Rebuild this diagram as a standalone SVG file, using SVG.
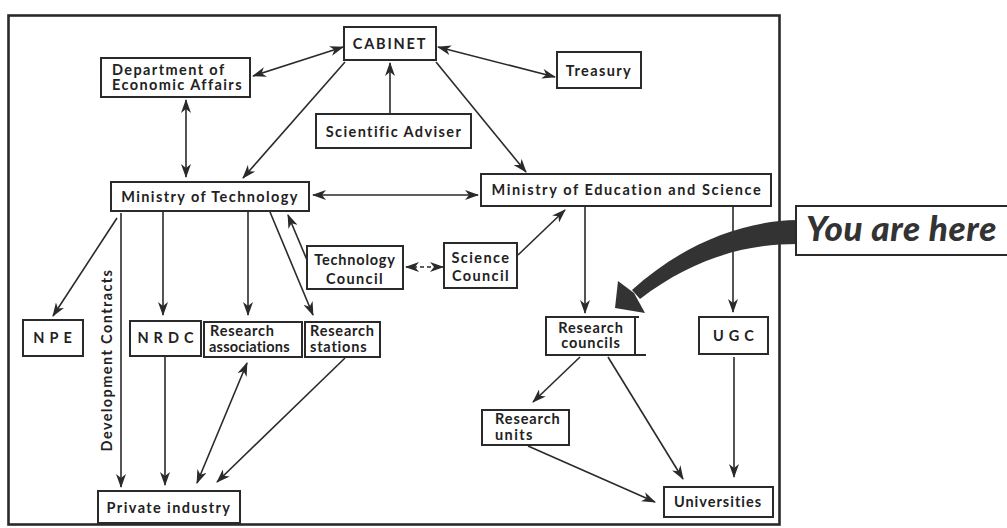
<svg xmlns="http://www.w3.org/2000/svg" width="1007" height="528" viewBox="0 0 1007 528">
<style>
.box{fill:#fff;stroke:#2a2a2a;stroke-width:2}
.t{font-family:Lato,"Open Sans","DejaVu Sans",sans-serif;font-weight:700;font-size:14.5px;fill:#222;letter-spacing:1.4px}
.c{text-anchor:middle}
.wide{letter-spacing:5px}
.ln{fill:none;stroke:#2a2a2a;stroke-width:1.6}
.a{marker-end:url(#ah)}
.aa{marker-end:url(#ah);marker-start:url(#ah)}
.dash{stroke-dasharray:4 3}
</style>
<defs>
<marker id="ah" viewBox="0 0 14 10" refX="13" refY="5" markerWidth="14" markerHeight="10" markerUnits="userSpaceOnUse" orient="auto-start-reverse">
<path d="M0,0 L14,5 L0,10 L4,5 Z" fill="#2a2a2a"/>
</marker>
</defs>
<rect width="1007" height="528" fill="#fff"/>
<rect id="frame" x="8.5" y="15.5" width="771" height="509" fill="none" stroke="#2a2a2a" stroke-width="2.6"/>

<g id="connectors">
<line class="ln aa" x1="253" y1="76" x2="343" y2="47"/>
<line class="ln aa" x1="438" y1="47" x2="555" y2="77"/>
<line class="ln a" x1="390" y1="113" x2="390" y2="63"/>
<line class="ln aa" x1="186" y1="100" x2="186" y2="177"/>
<line class="ln a" x1="345" y1="62" x2="243" y2="178"/>
<line class="ln a" x1="436" y1="62" x2="526" y2="172"/>
<line class="ln aa" x1="313" y1="195" x2="478" y2="195"/>
<line class="ln a" x1="117" y1="218" x2="53" y2="316"/>
<line class="ln a" x1="121" y1="213" x2="121" y2="487"/>
<line class="ln a" x1="163" y1="212" x2="163" y2="315"/>
<line class="ln a" x1="248" y1="212" x2="248" y2="315"/>
<line class="ln a" x1="270" y1="212" x2="313" y2="315"/>
<line class="ln a" x1="307" y1="260" x2="288" y2="215"/>
<line class="ln aa dash" x1="406" y1="267" x2="443" y2="267"/>
<line class="ln a" x1="518" y1="255" x2="565" y2="210"/>
<line class="ln a" x1="585" y1="207" x2="585" y2="313"/>
<line class="ln a" x1="733" y1="207" x2="733" y2="312"/>
<line class="ln a" x1="165" y1="357" x2="165" y2="485"/>
<line class="ln aa" x1="247" y1="363" x2="197" y2="483"/>
<line class="ln a" x1="345" y1="358" x2="217" y2="482"/>
<line class="ln a" x1="580" y1="357" x2="533" y2="402"/>
<line class="ln a" x1="608" y1="357" x2="683" y2="479"/>
<line class="ln a" x1="528" y1="446" x2="655" y2="502"/>
<line class="ln a" x1="734" y1="357" x2="734" y2="477"/>
</g>

<g id="cabinet"><rect class="box" x="344" y="27" width="92" height="33"/><text class="t c" x="390" y="49" style="letter-spacing:1.8px">CABINET</text></g>
<g id="dea"><rect class="box" x="101" y="58" width="149" height="39"/><text class="t" x="112" y="75">Department of</text><text class="t" x="112" y="90">Economic Affairs</text></g>
<g id="treasury"><rect class="box" x="557" y="52" width="84" height="36"/><text class="t c" x="599" y="76">Treasury</text></g>
<g id="sciadviser"><rect class="box" x="316" y="114" width="155" height="34"/><text class="t c" x="394" y="137">Scientific Adviser</text></g>
<g id="mintech"><rect class="box" x="111" y="182" width="198" height="29"/><text class="t c" x="210" y="202">Ministry of Technology</text></g>
<g id="minedu"><rect class="box" x="481" y="174" width="290" height="32"/><text class="t c" x="627" y="195" style="letter-spacing:1.6px">Ministry of Education and Science</text></g>
<g id="techcouncil"><rect class="box" x="307" y="246" width="96" height="43"/><text class="t c" x="355" y="265" style="letter-spacing:0.8px">Technology</text><text class="t c" x="355" y="284">Council</text></g>
<g id="scicouncil"><rect class="box" x="444" y="243" width="73" height="45"/><text class="t c" x="481" y="263">Science</text><text class="t c" x="481" y="281">Council</text></g>
<g id="npe"><rect class="box" x="23" y="320" width="60" height="36"/><text class="t c wide" x="55" y="343">NPE</text></g>
<g id="nrdc"><rect class="box" x="130" y="321" width="71" height="35"/><text class="t c wide" x="168" y="343">NRDC</text></g>
<g id="resassoc"><rect class="box" x="204" y="322" width="98" height="35"/><text class="t" x="210" y="336" style="letter-spacing:0.8px">Research</text><text class="t" x="209" y="352" style="letter-spacing:0.2px">associations</text></g>
<g id="resstations"><rect class="box" x="305" y="322" width="75" height="35"/><text class="t" x="310" y="336" style="letter-spacing:0.8px">Research</text><text class="t" x="310" y="352" style="letter-spacing:0.8px">stations</text></g>
<g id="devcontracts"><text class="t c" transform="translate(112,360) rotate(-90)" x="0" y="0">Development Contracts</text></g>
<g id="private"><rect class="box" x="98" y="491" width="142" height="32"/><text class="t c" x="169" y="513">Private industry</text></g>
<g id="rescouncils"><rect class="box" x="546" y="317" width="89" height="38"/><path d="M635,317 H639 M635,355 H646" stroke="#2a2a2a" stroke-width="2"/><text class="t c" x="591" y="333" style="letter-spacing:0.9px">Research</text><text class="t c" x="591" y="348" style="letter-spacing:0.9px">councils</text></g>
<g id="ugc"><rect class="box" x="699" y="317" width="69" height="37"/><text class="t c wide" x="736" y="341">UGC</text></g>
<g id="resunits"><rect class="box" x="482" y="410" width="87" height="35"/><text class="t" x="495" y="424" style="letter-spacing:0.9px">Research</text><text class="t" x="495" y="440">units</text></g>
<g id="universities"><rect class="box" x="664" y="487" width="109" height="30"/><text class="t c" x="718" y="507" style="letter-spacing:1px">Universities</text></g>

<g id="youarehere">
<path d="M797,220 C740,221 682,245 632,290 L640,299 C692,259 745,244 797,244 Z" fill="#333"/>
<path d="M615,308 L618,281 L634,293 L645,313 Z" fill="#333"/>
<rect x="796" y="206" width="214" height="49" fill="#fff" stroke="#2a2a2a" stroke-width="2"/>
<text x="806" y="241" style="font-family:Lato,'Open Sans',sans-serif;font-weight:900;font-style:italic;font-size:35px;letter-spacing:0.6px;fill:#333">You are here</text>
</g>
</svg>
